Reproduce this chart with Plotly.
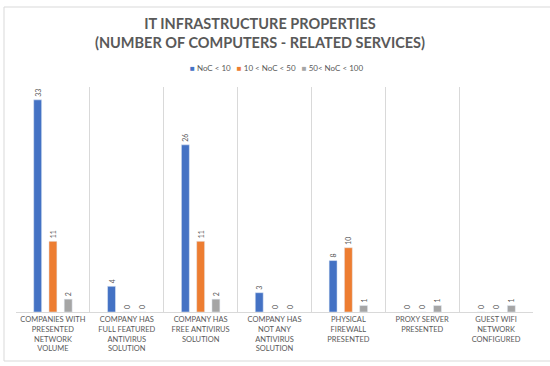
import plotly.graph_objects as go

categories = [
    "COMPANIES WITH<br>PRESENTED<br>NETWORK<br>VOLUME",
    "COMPANY HAS<br>FULL FEATURED<br>ANTIVIRUS<br>SOLUTION",
    "COMPANY HAS<br>FREE ANTIVIRUS<br>SOLUTION",
    "COMPANY HAS<br>NOT ANY<br>ANTIVIRUS<br>SOLUTION",
    "PHYSICAL<br>FIREWALL<br>PRESENTED",
    "PROXY SERVER<br>PRESENTED",
    "GUEST WIFI<br>NETWORK<br>CONFIGURED",
]
series_names = ["NoC < 10", "10 < NoC < 50", "50< NoC < 100"]
noc_lt_10 = [33, 4, 26, 3, 8, 0, 0]
noc_10_50 = [11, 0, 11, 0, 10, 0, 0]
noc_50_100 = [2, 0, 2, 0, 1, 1, 1]
colors = ["#4472C4", "#ED7D31", "#A5A5A5"]

W, H = 550, 366
L, R, T, B = 16, 17, 87, 54
pw, ph = W - L - R, H - T - B

fig = go.Figure()
for name, vals, col in zip(series_names, [noc_lt_10, noc_10_50, noc_50_100], colors):
    fig.add_trace(go.Bar(
        x=categories, y=vals, name=name, marker_color=col,
        text=[str(v) for v in vals], textposition="outside", textangle=-90,
        textfont=dict(size=7, color="#595959", family="Lato"),
        constraintext="none", cliponaxis=False, showlegend=False,
    ))

def px_x(p):
    return (p - L) / pw

def px_y(p):
    return (H - B - p) / ph

legend_text = "&nbsp;&nbsp;&nbsp;".join(
    f'<span style="color:{c}">■</span> {n.replace("<", "&lt;")}' for n, c in zip(series_names, colors)
)

fig.update_layout(
    width=W, height=H,
    margin=dict(l=L, r=R, t=T, b=B, autoexpand=False),
    paper_bgcolor="white", plot_bgcolor="white",
    barmode="group", bargap=0.38, bargroupgap=0.48,
    font=dict(family="Lato", color="#595959"),
    title=dict(
        text="IT INFRASTRUCTURE PROPERTIES<br>(NUMBER OF COMPUTERS - RELATED SERVICES)",
        x=260 / W, xanchor="center", xref="container",
        y=1 - 29 / H, yanchor="middle", yref="container",
        font=dict(size=14.5, color="#595959", family="Lato", weight="bold"),
    ),
    showlegend=False,
    annotations=[dict(
        text=legend_text, xref="paper", yref="paper",
        x=px_x(276), y=px_y(68), xanchor="center", yanchor="middle",
        showarrow=False, font=dict(size=8, color="#595959", family="Lato"),
    )],
    xaxis=dict(
        tickson="boundaries", showgrid=True, gridcolor="#d9d9d9", gridwidth=1,
        showline=True, linecolor="#d9d9d9", ticks="", automargin=False,
        tickfont=dict(size=7.5, color="#595959", family="Lato"),
        tickangle=0,
    ),
    yaxis=dict(range=[0, 35], showgrid=False, showticklabels=False, zeroline=False,
               showline=False, automargin=False),
    shapes=[dict(
        type="rect", xref="paper", yref="paper",
        x0=px_x(4), x1=px_x(556), y0=px_y(361), y1=px_y(7),
        line=dict(color="#d9d9d9", width=1), fillcolor="rgba(0,0,0,0)", layer="below",
    )],
)

fig.write_html("out.html", config={"displayModeBar": False},
               post_script="document.body.style.margin='0';")
